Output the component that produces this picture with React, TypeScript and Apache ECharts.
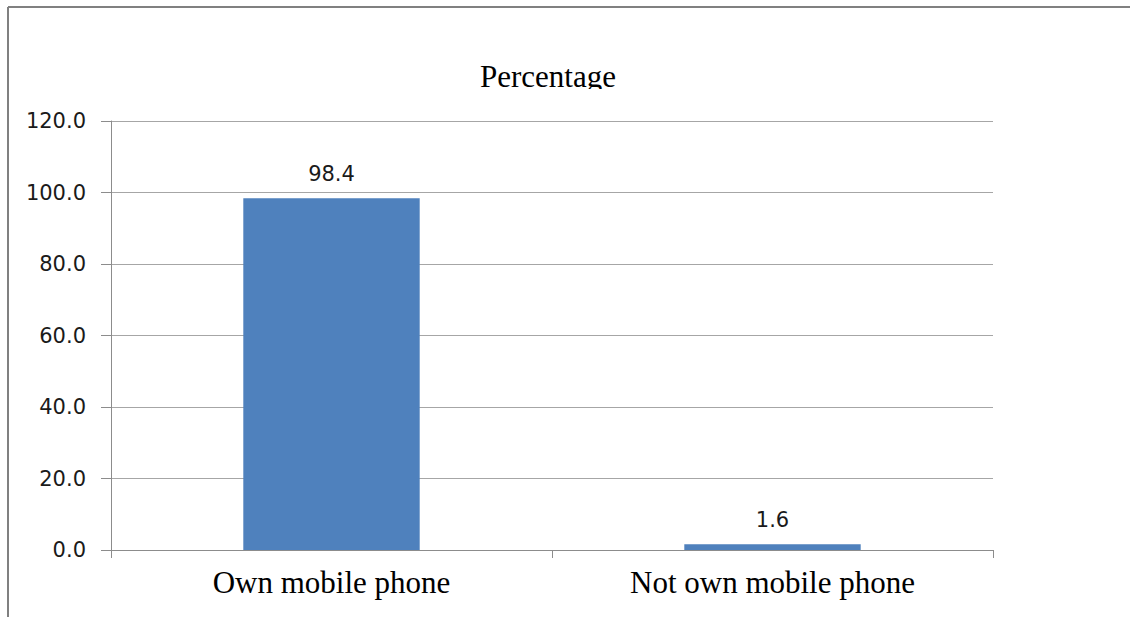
import React, { useEffect, useRef } from "react";
import * as echarts from "echarts";

const categories = ["Own mobile phone", "Not own mobile phone"];
const percentages = [98.4, 1.6];
const yTicks = { min: 0, max: 120, interval: 20 };
const chartTitle = "Percentage";

export default function App() {
  const ref = useRef<HTMLDivElement>(null);

  useEffect(() => {
    document.body.style.margin = "0";
    if (!ref.current) return;
    const chart = echarts.init(ref.current, undefined, { renderer: "svg" });
    chart.setOption({
      animation: false,
      backgroundColor: "#ffffff",
      title: {
        text: chartTitle,
        left: 543,
        top: 56,
        textAlign: "center",
        textStyle: {
          fontFamily: "Liberation Serif",
          fontSize: 31,
          fontWeight: "normal",
          color: "#000000",
        },
      },
      grid: { left: 111, right: 137, top: 121, bottom: 67 },
      xAxis: {
        type: "category",
        data: categories,
        axisLine: { lineStyle: { color: "#8c8c8c", width: 1 } },
        axisTick: { show: true, length: 8, lineStyle: { color: "#8c8c8c" } },
        axisLabel: {
          fontFamily: "Liberation Serif",
          fontSize: 31,
          color: "#000000",
          margin: 17,
        },
      },
      yAxis: {
        type: "value",
        min: yTicks.min,
        max: yTicks.max,
        interval: yTicks.interval,
        axisLine: { show: true, lineStyle: { color: "#8c8c8c", width: 1 } },
        axisTick: { show: true, length: 10, lineStyle: { color: "#8c8c8c" } },
        splitLine: { lineStyle: { color: "#a6a6a6", width: 1 } },
        axisLabel: {
          fontFamily: "DejaVu Sans",
          fontSize: 21,
          color: "#1a1a1a",
          margin: 25,
          formatter: (v: number) => v.toFixed(1),
        },
      },
      series: [
        {
          type: "bar",
          data: percentages,
          barWidth: "40%",
          itemStyle: { color: "#4f81bd" },
          label: {
            show: true,
            position: "top",
            distance: 14,
            fontFamily: "DejaVu Sans",
            fontSize: 21,
            color: "#1a1a1a",
            formatter: (p: any) => Number(p.value).toFixed(1),
          },
        },
      ],
      graphic: [
        // the title box cuts off the descender of the heading
        {
          type: "rect",
          shape: { x: 440, y: 89, width: 200, height: 20 },
          style: { fill: "#ffffff" },
          z: 100,
        },
        {
          type: "line",
          shape: { x1: 8, y1: 7, x2: 1130, y2: 7 },
          style: { stroke: "#808080", lineWidth: 2 },
          z: 100,
        },
        {
          type: "line",
          shape: { x1: 8, y1: 7, x2: 8, y2: 617 },
          style: { stroke: "#808080", lineWidth: 2 },
          z: 100,
        },
      ],
    });
    return () => chart.dispose();
  }, []);

  return <div ref={ref} style={{ width: 1130, height: 617 }} />;
}
